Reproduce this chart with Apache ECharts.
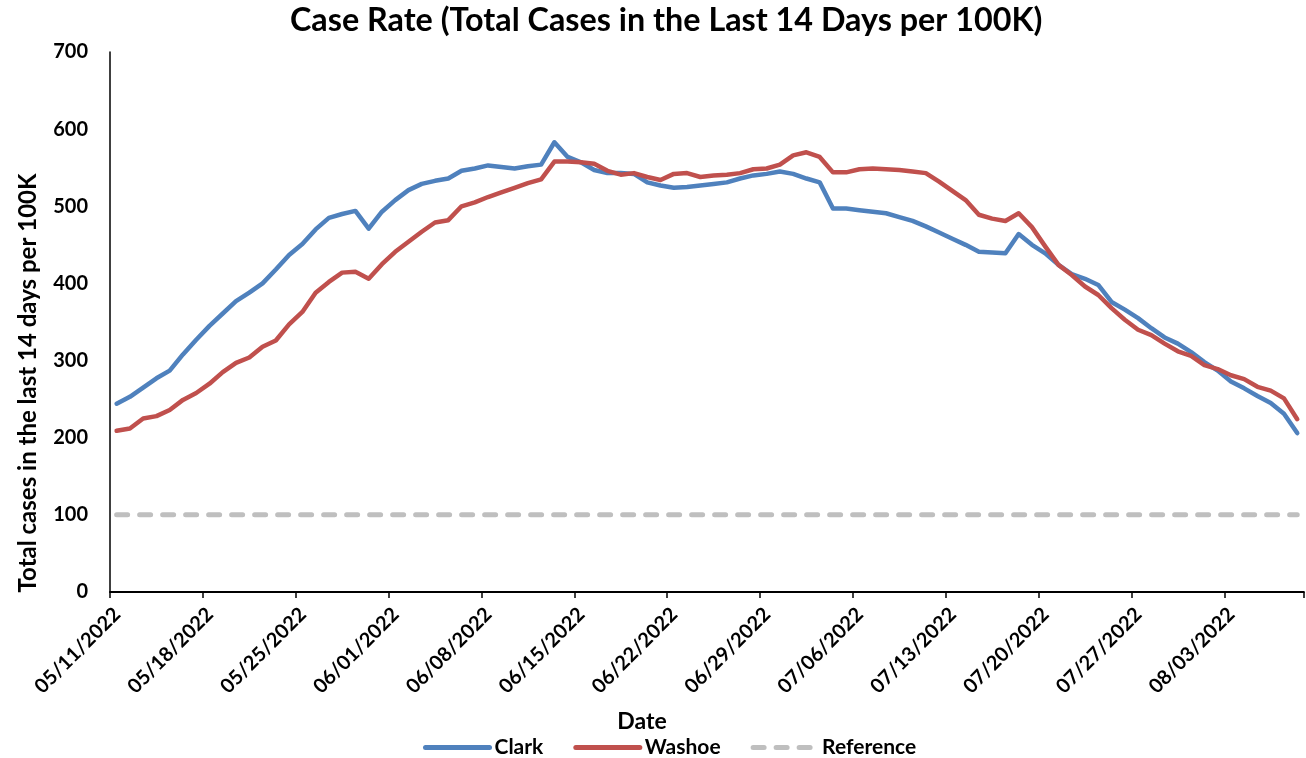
<!DOCTYPE html>
<html>
<head>
<meta charset="utf-8">
<script src="https://cdn.jsdelivr.net/npm/echarts@6/dist/echarts.min.js"></script>
<style>
html,body{margin:0;padding:0;background:#fff;}
#chart{width:1306px;height:758px;}
</style>
</head>
<body>
<div id="chart"></div>
<script>
// ---- data ----
const startDate = [2022, 5, 11];
const dayCount = 90;
const dates = (function(){
  const out = [];
  for (let i = 0; i < dayCount; i++) {
    const d = new Date(Date.UTC(startDate[0], startDate[1]-1, startDate[2] + i));
    const mm = String(d.getUTCMonth()+1).padStart(2,'0');
    const dd = String(d.getUTCDate()).padStart(2,'0');
    out.push(mm + '/' + dd + '/' + d.getUTCFullYear());
  }
  return out;
})();

const clark = [
  244, 253, 265, 277, 287, 308, 327, 345, 361, 377,
  388, 400, 418, 437, 451, 470, 485, 490, 494, 471,
  493, 508, 521, 529, 533, 536, 546, 549, 553, 551,
  549, 552, 554, 583, 564, 557, 547, 543, 543, 542,
  531, 527, 524, 525, 527, 529, 531, 536, 540, 542,
  545, 542, 536, 531, 497, 497, 495, 493, 491, 486,
  481, 474, 466, 458, 450, 441, 440, 439, 464, 450,
  439, 424, 412, 406, 398, 376, 366, 355, 342, 330,
  322, 311, 298, 287, 273, 264, 254, 245, 231, 206
];
const washoe = [
  209, 212, 225, 228, 236, 249, 258, 270, 285, 297,
  304, 318, 326, 347, 363, 388, 402, 414, 415, 406,
  425, 441, 454, 467, 479, 482, 500, 505, 512, 518,
  524, 530, 535, 558, 558, 557, 555, 546, 541, 543,
  538, 534, 542, 543, 538, 540, 541, 543, 548, 549,
  554, 566, 570, 564, 544, 544, 548, 549, 548, 547,
  545, 543, 532, 520, 508, 489, 484, 481, 491, 473,
  448, 424, 411, 396, 385, 368, 353, 340, 333, 322,
  312, 306, 294, 289, 281, 276, 266, 261, 251, 224
];
const referenceValue = 100;
const reference = dates.map(() => referenceValue);
const yTicks = [0, 100, 200, 300, 400, 500, 600, 700];
const seriesNames = ['Clark', 'Washoe', 'Reference'];

// ---- chart ----
const FONT = 'Lato, "Open Sans", sans-serif';
const toPoints = arr => arr.map((v, i) => [i + 0.5, v]);

const chart = echarts.init(document.getElementById('chart'), null, {renderer: 'canvas'});
chart.setOption({
  animation: false,
  backgroundColor: '#fff',
  title: {
    text: 'Case Rate (Total Cases in the Last 14 Days per 100K)',
    left: 285,
    top: 0,
    textStyle: {fontFamily: FONT, fontWeight: 'bold', fontSize: 32.3, color: '#000'}
  },
  legend: {
    bottom: 0,
    left: 418,
    padding: [0, 5, 0, 5],
    itemWidth: 64,
    itemHeight: 5,
    itemGap: 30,
    data: seriesNames,
    itemStyle: {opacity: 0},
    lineStyle: {width: 5},
    textStyle: {fontFamily: FONT, fontWeight: 'bold', fontSize: 21, color: '#000'}
  },
  grid: {left: 110, right: 0, top: 52, bottom: 166, containLabel: false},
  xAxis: {
    type: 'value',
    min: 0,
    max: dayCount,
    interval: 7,
    name: 'Date',
    nameLocation: 'middle',
    nameGap: 118,
    nameTextStyle: {fontFamily: FONT, fontWeight: 'bold', fontSize: 23, color: '#000', padding: [0, 130, 0, 0]},
    splitLine: {show: false},
    axisLine: {lineStyle: {color: '#000', width: 2}},
    axisTick: {show: true, length: 6, lineStyle: {color: '#000', width: 1.5}},
    axisLabel: {
      rotate: 45,
      margin: 12,
      verticalAlign: 'top',
      fontFamily: FONT, fontWeight: 'bold', fontSize: 20, color: '#000',
      formatter: v => (v % 7 === 0 && v < dayCount) ? dates[v] : ''
    }
  },
  yAxis: {
    type: 'value',
    min: yTicks[0],
    max: yTicks[yTicks.length - 1],
    interval: 100,
    name: 'Total cases in the last 14 days per 100K',
    nameLocation: 'middle',
    nameGap: 70,
    nameTextStyle: {fontFamily: FONT, fontWeight: 'bold', fontSize: 24, color: '#000', padding: [0, 122, 0, 0]},
    splitLine: {show: false},
    axisLine: {show: true, lineStyle: {color: '#000', width: 1.5}},
    axisTick: {show: false},
    axisLabel: {margin: 22, fontFamily: FONT, fontWeight: 'bold', fontSize: 20, color: '#000'}
  },
  series: [
    {
      name: seriesNames[0], type: 'line', data: toPoints(clark),
      showSymbol: false, symbol: 'none', z: 3,
      lineStyle: {color: '#4F81BD', width: 4.5, cap: 'round', join: 'round'},
      itemStyle: {color: '#4F81BD'}
    },
    {
      name: seriesNames[1], type: 'line', data: toPoints(washoe),
      showSymbol: false, symbol: 'none', z: 4,
      lineStyle: {color: '#C0504D', width: 4.5, cap: 'round', join: 'round'},
      itemStyle: {color: '#C0504D'}
    },
    {
      name: seriesNames[2], type: 'line', data: toPoints(reference),
      showSymbol: false, symbol: 'none', z: 2,
      lineStyle: {color: '#BFBFBF', width: 5, type: [11, 12], cap: 'round'},
      itemStyle: {color: '#BFBFBF'}
    }
  ]
});
</script>
</body>
</html>
